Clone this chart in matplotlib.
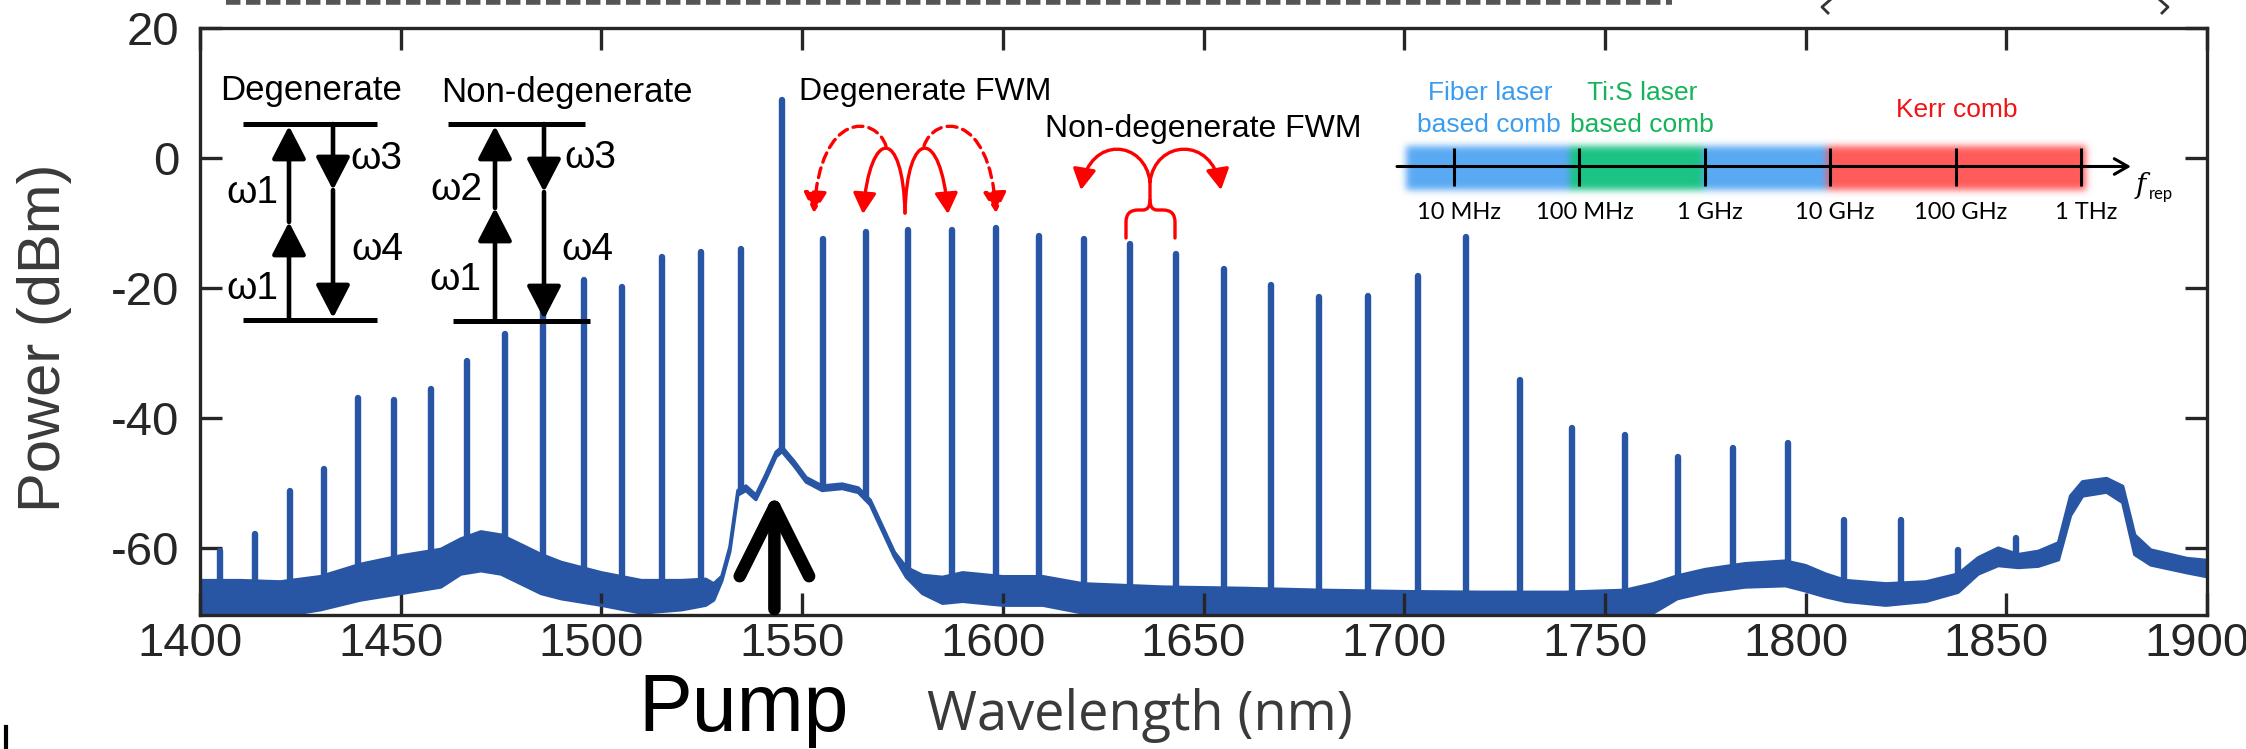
import numpy as np
import matplotlib.pyplot as plt
import matplotlib.colors as mcolors
from matplotlib.patches import FancyArrowPatch
from matplotlib.path import Path
from matplotlib.transforms import ScaledTranslation

plt.rcParams['font.family'] = ['Liberation Sans', 'DejaVu Sans']
plt.rcParams['axes.unicode_minus'] = False

# comb lines: wavelength (nm), peak power (dBm)
line_wl = [1405.1, 1413.6, 1422.3, 1430.8, 1439.4, 1448.3, 1457.5, 1466.5, 1476.0, 1485.5,
           1495.6, 1505.1, 1515.0, 1524.7, 1534.7, 1544.9, 1555.1, 1565.8, 1576.3, 1587.3,
           1598.2, 1609.1, 1620.3, 1631.8, 1643.2, 1655.0, 1666.8, 1678.8, 1690.9, 1703.4,
           1715.3, 1728.8, 1741.9, 1754.9, 1768.3, 1781.9, 1795.7, 1809.5, 1823.7, 1838.0, 1852.5]
line_pk = [-60.5, -57.8, -51.2, -47.8, -36.9, -37.2, -35.5, -31.3, -27.0, -23.0,
           -18.8, -19.9, -15.2, -14.5, -14.0, 9.0, -12.5, -11.4, -11.1, -11.1,
           -10.8, -12.0, -12.5, -13.2, -14.8, -17.0, -19.6, -21.4, -21.2, -18.2,
           -12.2, -34.2, -41.6, -42.6, -46.0, -44.6, -43.8, -55.7, -55.7, -60.3, -58.5]

# noise floor / ASE background: upper and lower edge of the trace
floor_wl = [1400, 1410, 1420, 1430, 1440, 1450, 1460, 1465, 1470, 1475, 1480, 1485, 1490, 1500,
            1510, 1520, 1526, 1528, 1530, 1532, 1534, 1536, 1538.5, 1541, 1543.5, 1545, 1548,
            1551, 1555, 1560, 1564, 1567, 1570, 1573, 1576, 1580, 1585, 1590, 1600, 1610, 1620,
            1640, 1660, 1680, 1700, 1720, 1740, 1755, 1762, 1768, 1775, 1785, 1795, 1800, 1805,
            1810, 1820, 1830, 1838, 1843, 1848, 1853, 1858, 1863, 1866, 1869, 1875, 1879, 1882,
            1886, 1895, 1900]
floor_hi = [-65.0, -65.0, -65.2, -64.4, -62.5, -61.2, -60.2, -58.6, -57.5, -58.0, -59.5, -61.0, -62.2, -63.8,
            -65.0, -65.0, -64.8, -65.5, -64.35, -59.85, -51.15, -50.45, -51.85, -48.65, -45.25, -44.45, -46.65,
            -49.15, -50.45, -50.15, -50.75, -52.65, -56.65, -60.65, -63.0, -64.2, -64.5, -63.8, -64.4, -64.4, -65.5,
            -66.0, -66.2, -66.5, -66.7, -66.8, -66.8, -66.5, -65.5, -64.3, -63.3, -62.4, -62.0, -62.7, -64.0,
            -65.0, -65.5, -65.2, -64.0, -61.5, -60.0, -61.0, -60.5, -59.2, -52.0, -49.8, -49.3, -50.5, -58.0,
            -60.3, -61.6, -61.9]
floor_lo = [-70.5, -70.5, -70.5, -69.5, -68.0, -67.0, -66.0, -64.0, -63.5, -64.0, -65.5, -67.0, -67.8, -68.8,
            -70.0, -69.5, -68.8, -68.0, -65.05, -60.55, -51.85, -51.15, -52.55, -49.35, -45.95, -45.15, -47.35,
            -49.85, -51.15, -50.85, -51.45, -53.35, -57.35, -61.35, -64.5, -67.0, -68.5, -68.2, -68.8, -68.8, -70.0,
            -70.5, -70.5, -70.5, -70.5, -70.5, -70.5, -70.5, -70.0, -67.8, -66.8, -66.0, -65.8, -66.6, -67.5,
            -68.2, -68.8, -68.2, -66.8, -64.0, -62.7, -63.0, -62.8, -61.8, -55.0, -52.0, -51.4, -53.0, -61.0,
            -62.6, -63.8, -64.4]

x_ticks = [1400, 1450, 1500, 1550, 1600, 1650, 1700, 1750, 1800, 1850, 1900]
y_ticks = [-60, -40, -20, 0, 20]
rep_labels = ['10 MHz', '100 MHz', '1 GHz', '10 GHz', '100 GHz', '1 THz']

W, H = 2246, 749
fig = plt.figure(figsize=(W / 100, H / 100), dpi=100)
ax = fig.add_axes([200 / W, 1 - 615 / H, 2007 / W, 587 / H])

blue = '#2856a5'
ax.fill_between(floor_wl, floor_lo, floor_hi, color=blue, lw=0)
ax.plot(floor_wl, floor_hi, color=blue, lw=2.4)
ax.plot(floor_wl, floor_lo, color=blue, lw=2.4)
mid = (np.array(floor_hi) + np.array(floor_lo)) / 2
base = np.interp(line_wl, floor_wl, mid)
ax.vlines(line_wl, base, line_pk, color=blue, lw=4.6, capstyle='round')

ax.set_xlim(1400, 1900)
ax.set_ylim(-70.3, 20)
ax.set_xticks(x_ticks)
ax.set_yticks(y_ticks)
for s in ax.spines.values():
    s.set_linewidth(2.4)
    s.set_color('#262626')
ax.tick_params(direction='in', length=16, width=2.4, color='#262626', top=True, right=True,
               labelsize=34, labelcolor='#262626')
ax.tick_params(axis='x', pad=5)
ax.tick_params(axis='y', pad=15)
shift = ScaledTranslation(-0.10, 0, fig.dpi_scale_trans)
for lbl in ax.get_xticklabels():
    lbl.set_transform(lbl.get_transform() + shift)

# pump arrow
ax.annotate('', xy=(1543.1, -51.5), xytext=(1543.1, -69.4),
            arrowprops=dict(arrowstyle='->,head_length=2.5,head_width=1.25', mutation_scale=20,
                            lw=9, color='k', shrinkA=0, shrinkB=0,
                            capstyle='round', joinstyle='round'))

# overlay in pixel coordinates for the sketches and labels
ov = fig.add_axes([0, 0, 1, 1], zorder=5)
ov.axis('off')

# coloured f_rep bands (soft edges)
bx0, by0, bw, bh = 1370, 116, 760, 110
rgba = np.zeros((bh, bw, 4))
for xa, xb, col in [(1406, 1827, '#5aa9f4'), (1570, 1703, '#1cc385'), (1827, 2086, '#ff5b5b')]:
    rgba[146 - by0:190 - by0, xa - bx0:xb - bx0, :3] = mcolors.to_rgb(col)
    rgba[146 - by0:190 - by0, xa - bx0:xb - bx0, 3] = 1
k = np.exp(-0.5 * (np.arange(-12, 13) / 3.5) ** 2)
k /= k.sum()
pre = rgba.copy()
pre[..., :3] *= pre[..., 3:4]
for a in (0, 1):
    pre = np.apply_along_axis(lambda v: np.convolve(v, k, mode='same'), a, pre)
pre[..., :3] /= np.maximum(pre[..., 3:4], 1e-6)
ov.imshow(np.clip(pre, 0, 1), extent=(bx0, bx0 + bw, by0 + bh, by0), aspect='auto',
          interpolation='bilinear', zorder=1)
ov.set_xlim(0, W)
ov.set_ylim(H, 0)

ov.annotate('', xy=(2131, 166.5), xytext=(1397, 166.5),
            arrowprops=dict(arrowstyle='->,head_length=0.7,head_width=0.4', mutation_scale=14,
                            lw=2.2, color='k', shrinkA=0, shrinkB=0))
rep_x = 1454 + 125.4 * np.arange(len(rep_labels))
ov.vlines(rep_x, 148, 186, color='k', lw=2.2, zorder=3)
for xx, lab in zip(rep_x, rep_labels):
    ov.text(xx + 5, 219, lab, fontfamily='Lato', fontsize=17, ha='center', va='baseline')
ov.text(2136, 193, 'f', fontfamily='DejaVu Serif', style='italic', fontsize=20, va='baseline')
ov.text(2149, 199, 'rep', fontfamily='Lato', fontsize=12, va='baseline')

ov.text(1490, 100, 'Fiber laser', color='#3a9cf0', fontsize=19, ha='center', va='baseline')
ov.text(1489, 132, 'based comb', color='#3a9cf0', fontsize=19, ha='center', va='baseline')
ov.text(1642, 100, 'Ti:S laser', color='#14b45a', fontsize=19, ha='center', va='baseline')
ov.text(1642, 132, 'based comb', color='#14b45a', fontsize=19, ha='center', va='baseline')
ov.text(1957, 117, 'Kerr comb', color='#f01414', fontsize=19, ha='center', va='baseline')

# energy level sketches
def level(x0, x1, y):
    ov.plot([x0, x1], [y, y], color='k', lw=3.6, solid_capstyle='butt')

def arrow(x, y0, y1):
    ov.add_patch(FancyArrowPatch((x, y0), (x, y1), arrowstyle='-|>,head_length=1.35,head_width=0.7',
                                 mutation_scale=15, lw=3.3, color='k', shrinkA=0, shrinkB=0))

level(243, 377, 124)
level(243, 377, 320)
arrow(289, 320, 222)
arrow(289, 222, 126)
arrow(333, 124, 190)
arrow(333, 190, 318)
level(448, 585, 124)
level(453, 590, 321)
arrow(495, 321, 208)
arrow(495, 208, 126)
arrow(544, 124, 192)
arrow(544, 192, 319)

ov.text(311, 100, 'Degenerate', fontsize=25, ha='center', va='baseline')
ov.text(567, 102, 'Non-degenerate', fontsize=25, ha='center', va='baseline')
for xx, yy, s in [(252, 203, 'ω1'), (252, 299, 'ω1'), (376, 169, 'ω3'), (377, 260, 'ω4'),
                  (456, 200, 'ω2'), (455, 290, 'ω1'), (590, 168, 'ω3'), (587, 260, 'ω4')]:
    ov.text(xx, yy, s, fontsize=28, ha='center', va='baseline')

# red FWM arrows
def red_curve(pts, ls='-'):
    p = Path(pts, [Path.MOVETO, Path.CURVE4, Path.CURVE4, Path.CURVE4])
    ov.add_patch(FancyArrowPatch(path=p, arrowstyle='-|>,head_length=0.9,head_width=0.5',
                                 mutation_scale=14, lw=2.4, color='red', linestyle=ls))

red_curve([(905, 213), (903, 127), (870, 127), (863, 214)])
red_curve([(905, 213), (907, 127), (941, 127), (948, 214)])
red_curve([(886, 146), (876, 115), (820, 110), (814, 213)], ls=(0, (3, 1.8)))
red_curve([(924, 146), (934, 115), (990, 110), (996, 213)], ls=(0, (3, 1.8)))
ov.text(799, 100, 'Degenerate FWM', fontsize=23, va='baseline')

red_curve([(1150, 182), (1145, 140), (1090, 135), (1081, 190)])
red_curve([(1150, 182), (1155, 140), (1212, 135), (1221, 190)])
brace = Path([(1126, 238), (1126, 222), (1126, 210), (1138, 210), (1143, 210), (1150, 210), (1150, 200),
              (1150, 176)],
             [Path.MOVETO, Path.LINETO, Path.CURVE3, Path.CURVE3, Path.LINETO, Path.CURVE3, Path.CURVE3,
              Path.LINETO])
brace2 = Path([(1175, 238), (1175, 222), (1175, 210), (1163, 210), (1157, 210), (1150, 210), (1150, 200)],
              [Path.MOVETO, Path.LINETO, Path.CURVE3, Path.CURVE3, Path.LINETO, Path.CURVE3, Path.CURVE3])
for p in (brace, brace2):
    ov.add_patch(FancyArrowPatch(path=p, arrowstyle='-', lw=2.4, color='red'))
ov.text(1045, 137, 'Non-degenerate FWM', fontsize=23, va='baseline')

# axis labels and Pump
ov.text(45, 338, 'Power (dBm)', fontsize=43, rotation=90, ha='center', va='center', color='#3a3a3a')
ov.text(1140, 730, 'Wavelength (nm)', fontfamily='Open Sans', fontsize=39, ha='center', va='baseline',
        color='#3a3a3a')
ov.text(638, 731, 'Pump', fontsize=58, va='baseline', color='k')

# cropped bits of neighbouring panels
ov.plot([226, 1672], [2, 2], color='#555555', lw=4, dashes=(2.6, 1.0))
ov.plot([1830, 1822, 1828], [0, 7, 13], color='#333333', lw=2)
ov.plot([2160, 2168, 2162], [0, 7, 13], color='#333333', lw=2)
ov.plot([6, 6], [727, 749], color='k', lw=3)

fig.savefig('out.png', dpi=100)
